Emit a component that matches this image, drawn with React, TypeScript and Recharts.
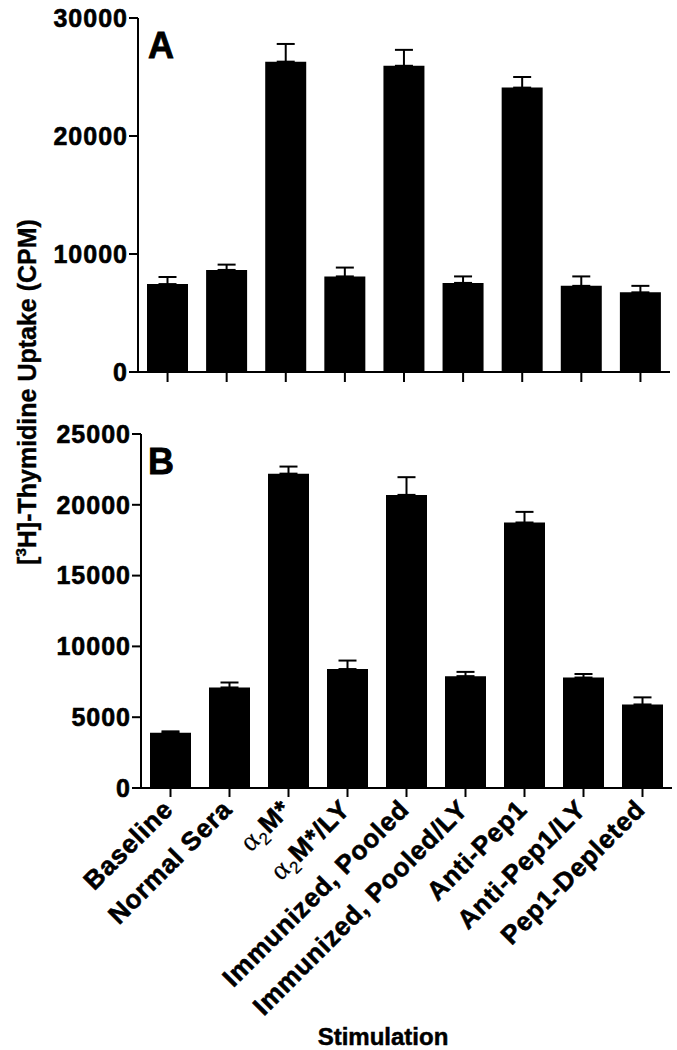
import React from 'react';
import { BarChart, Bar, XAxis, YAxis, ErrorBar } from 'recharts';

const categories = [
  'Baseline',
  'Normal Sera',
  'α2M*',
  'α2M*/LY',
  'Immunized, Pooled',
  'Immunized, Pooled/LY',
  'Anti-Pep1',
  'Anti-Pep1/LY',
  'Pep1-Depleted',
];

const meansA = [7450, 8650, 26300, 8100, 25950, 7550, 24100, 7300, 6750];
const errorsA = [600, 450, 1500, 750, 1350, 550, 900, 800, 550];

const meansB = [3900, 7100, 22200, 8400, 20700, 7900, 18750, 7800, 5900];
const errorsB = [100, 350, 500, 600, 1250, 300, 750, 250, 500];

const ticksA = [0, 10000, 20000, 30000];
const ticksB = [0, 5000, 10000, 15000, 20000, 25000];

const dataA = categories.map((name, i) => ({ name, value: meansA[i], err: [0, errorsA[i]] }));
const dataB = categories.map((name, i) => ({ name, value: meansB[i], err: [0, errorsB[i]] }));

const FONT = '"Liberation Sans", Arial, Helvetica, sans-serif';
const axisLine = { stroke: '#000', strokeWidth: 2 };
const tickStyle = {
  fill: '#000',
  stroke: '#000',
  strokeWidth: 0.6,
  fontSize: 25,
  fontWeight: 'bold' as const,
  fontFamily: FONT,
  letterSpacing: 1,
};

const XTick = (props: any) => {
  const { x, y, payload } = props;
  const label: string = String(payload.value);
  const ax = x + 4;
  const ay = y + 14;
  const isAlpha = label.startsWith('α2');
  return (
    <text
      x={ax}
      y={ay}
      transform={`rotate(-45, ${ax}, ${ay})`}
      textAnchor="end"
      fill="#000"
      stroke="#000"
      strokeWidth={0.6}
      fontSize={26}
      letterSpacing={0.8}
      fontWeight="bold"
      fontFamily={FONT}
    >
      {isAlpha ? (
        <>
          <tspan fontFamily='"Liberation Serif", "Times New Roman", serif' fontWeight="normal" fontSize={28} strokeWidth={0.2}>α</tspan>
          <tspan fontSize={17} fontWeight="normal" dy={6} strokeWidth={0.2}>2</tspan>
          <tspan dy={-6}>{label.slice(2)}</tspan>
        </>
      ) : (
        label
      )}
    </text>
  );
};

const EmptyTick = () => <g />;

export default function App() {
  return (
    <div style={{ position: 'absolute', left: 0, top: 0, width: 677, height: 1050, background: '#fff' }}>
      <div style={{ position: 'absolute', left: 0, top: 0 }}>
        <BarChart width={677} height={400} data={dataA} margin={{ top: 18, right: 7, bottom: 0, left: 0 }}>
          <XAxis
            dataKey="name"
            height={28}
            axisLine={axisLine}
            tickLine={axisLine}
            tickSize={10}
            tick={EmptyTick}
            interval={0}
          />
          <XAxis xAxisId="t" orientation="top" dataKey="name" height={0} tick={false} tickLine={false} axisLine={axisLine} />
          <YAxis
            width={138}
            domain={[0, 30000]}
            ticks={ticksA}
            interval={0}
            axisLine={axisLine}
            tickLine={axisLine}
            tickSize={9}
            tickMargin={1}
            tick={tickStyle}
          />
          <YAxis yAxisId="r" orientation="right" width={0} domain={[0, 30000]} tick={false} tickLine={false} axisLine={axisLine} />
          <Bar dataKey="value" fill="#000" barSize={41} isAnimationActive={false}>
            <ErrorBar dataKey="err" width={9} strokeWidth={2} stroke="#000" direction="y" isAnimationActive={false} />
          </Bar>
        </BarChart>
      </div>
      <div style={{ position: 'absolute', left: 0, top: 400 }}>
        <BarChart width={677} height={650} data={dataB} margin={{ top: 34, right: 5, bottom: 0, left: 0 }}>
          <XAxis
            dataKey="name"
            height={262}
            axisLine={axisLine}
            tickLine={axisLine}
            tickSize={9}
            tickMargin={0}
            tick={XTick}
            interval={0}
          />
          <XAxis xAxisId="t" orientation="top" dataKey="name" height={0} tick={false} tickLine={false} axisLine={axisLine} />
          <YAxis
            width={141}
            domain={[0, 25000]}
            ticks={ticksB}
            interval={0}
            axisLine={axisLine}
            tickLine={axisLine}
            tickSize={9}
            tickMargin={1}
            tick={tickStyle}
          />
          <YAxis yAxisId="r" orientation="right" width={0} domain={[0, 25000]} tick={false} tickLine={false} axisLine={axisLine} />
          <Bar dataKey="value" fill="#000" barSize={41} isAnimationActive={false}>
            <ErrorBar dataKey="err" width={9} strokeWidth={2} stroke="#000" direction="y" isAnimationActive={false} />
          </Bar>
        </BarChart>
      </div>
      <svg
        width={677}
        height={1050}
        style={{ position: 'absolute', left: 0, top: 0, pointerEvents: 'none' }}
      >
        <text x={148} y={58} fontSize={36} fontWeight="bold" fontFamily={FONT} fill="#000" stroke="#000" strokeWidth={0.8}>A</text>
        <text x={148} y={474} fontSize={36} fontWeight="bold" fontFamily={FONT} fill="#000" stroke="#000" strokeWidth={0.8}>B</text>
        <text
          x={36}
          y={392}
          transform="rotate(-90, 36, 392)"
          textAnchor="middle"
          fontSize={25}
          fontWeight="bold"
          fontFamily={FONT}
          fill="#000"
          stroke="#000"
          strokeWidth={0.4}
        >
          [<tspan fontSize={15} dy={-10}>3</tspan>
          <tspan dy={10}>H]-Thymidine Uptake (CPM)</tspan>
        </text>
        <text x={383} y={1045} textAnchor="middle" fontSize={24} fontWeight="bold" fontFamily={FONT} fill="#000" stroke="#000" strokeWidth={0.5}>
          Stimulation
        </text>
      </svg>
    </div>
  );
}
